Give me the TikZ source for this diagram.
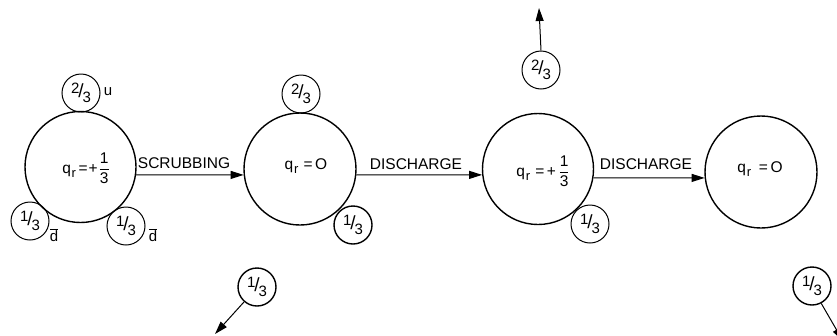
\documentclass[tikz,border=0pt]{standalone}
\usepackage{fontspec}
\setmainfont{Liberation Sans}
\usetikzlibrary{arrows.meta}
\newcommand{\sfr}[2]{\raisebox{4pt}{#1}\kern-1pt{\fontsize{19}{19}\selectfont/}\kern-1pt\raisebox{-4.5pt}{#2}}
\newcommand{\qsub}{q\kern0.8pt\raisebox{-4.5pt}{\fontsize{13}{13}\selectfont r}}
\newcommand{\vfrac}{$\displaystyle\frac{\mbox{1}}{\mbox{3}}$}
\newcommand{\dbar}{$\overline{\mbox{d}}$}
\begin{document}
\begin{tikzpicture}[x=1pt,y=-1pt,
  bigc/.style={circle,draw,line width=1.4pt,minimum size=#1,inner sep=0pt},
  smallc/.style={circle,draw,line width=1pt,minimum size=38pt,inner sep=0pt,font=\fontsize{15}{15}\selectfont},
  boldc/.style={smallc,line width=1.4pt},
  txt/.style={inner sep=0pt,font=\fontsize{15.5}{15.5}\selectfont},
  lbl/.style={inner sep=0pt,font=\fontsize{15}{15}\selectfont},
  arr/.style={line width=1pt,-{Triangle[length=13pt,width=8pt]}}]
\useasboundingbox (0,0) rectangle (837,335);

% big circles
\node[bigc=111pt] (c1) at (80.5,167) {};
\node[bigc=112pt] (c2) at (300,169) {};
\node[bigc=111pt] (c3) at (538,169) {};
\node[bigc=112pt] (c4) at (761,172) {};

% texts inside
\node[txt] (t1) at (86,168) {\qsub\,=\kern1pt+\kern1pt\vfrac};
\node[txt] (t2) at (306,166) {\qsub\,\,=\,O};
\node[txt] (t3) at (543,171) {\qsub\,\,=\,+\,\vfrac};
\node[txt] (t4) at (760,169) {\qsub\,\,\,=\,O};

% small circles
\node[smallc] (u1) at (81,93) {\sfr{2}{3}};
\node[smallc] (dl) at (30,221) {\sfr{1}{3}};
\node[smallc] (dr) at (126,226) {\sfr{1}{3}};
\node[smallc] (u2) at (301,94) {\sfr{2}{3}};
\node[boldc] (s2) at (353,225) {\sfr{1}{3}};
\node[smallc] (u3) at (541,70) {\sfr{2}{3}};
\node[smallc] (s3) at (590,224) {\sfr{1}{3}};
\node[boldc] (b1) at (257,287) {\sfr{1}{3}};
\node[boldc] (r1) at (812,286) {\sfr{1}{3}};

% quark labels
\node[lbl] (lu) at (108,92) {u};
\node[lbl] (ld1) at (54,235) {\dbar};
\node[lbl] (ld2) at (153,235) {\dbar};

% process labels
\node[txt,anchor=base] (p1) at (184,168.5) {SCRUBBING};
\node[txt,anchor=base] (p2) at (416,169) {DISCHARGE};
\node[txt,anchor=base] (p3) at (646,169) {DISCHARGE};

% connectors
\draw[arr] (c1.-8) -- (c2.186);
\draw[arr] (c2.-6) -- (c3.186);
\draw[arr] (c3.-9.5) -- (c4.186);

\coordinate (upend) at (539,8);
\draw[arr] (u3.north) -- (upend);
\coordinate (blend) at (215,334);
\draw[arr] (b1.229) -- (blend);
\coordinate (brend) at (843,341);
\draw[arr] (r1.-62) -- (brend);
\end{tikzpicture}
\end{document}
